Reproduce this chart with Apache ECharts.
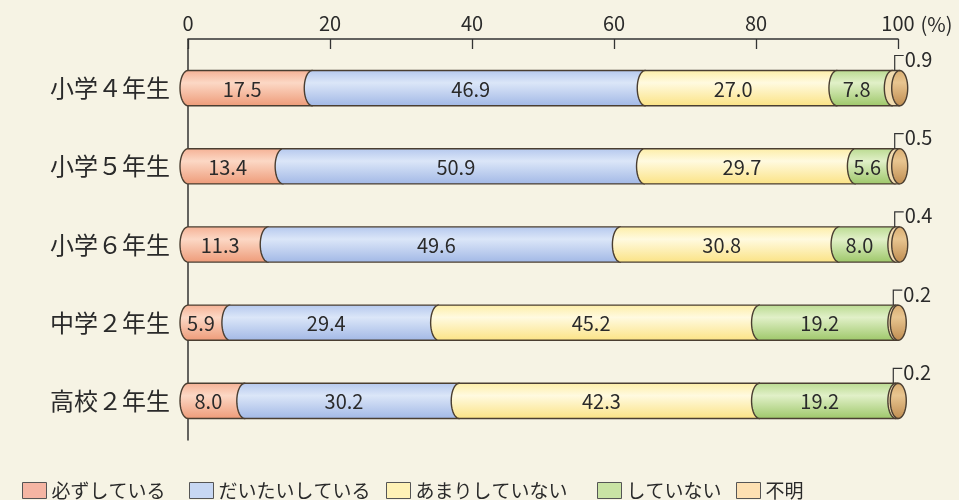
<!DOCTYPE html>
<html><head><meta charset="utf-8">
<script src="https://cdn.jsdelivr.net/npm/echarts@6/dist/echarts.min.js"></script>
<style>html,body{margin:0;padding:0;background:#f6f3e4}#c{width:959px;height:500px}</style>
</head><body><div id="c"></div>
<script>
const categories = ['小学４年生','小学５年生','小学６年生','中学２年生','高校２年生'];
const seriesNames = ['必ずしている','だいたいしている','あまりしていない','していない','不明'];
const kanarazu = [17.5, 13.4, 11.3, 5.9, 8.0];
const daitai = [46.9, 50.9, 49.6, 29.4, 30.2];
const amari = [27.0, 29.7, 30.8, 45.2, 42.3];
const shiteinai = [7.8, 5.6, 8.0, 19.2, 19.2];
const fumei = [0.9, 0.5, 0.4, 0.2, 0.2];
const xTicks = [0, 20, 40, 60, 80, 100];

const values = [kanarazu, daitai, amari, shiteinai, fumei];
const legendColors = ['#f5b5a3', '#c7d7f3', '#fff2b6', '#c9e3a4', '#fde0b2'];
const legendLefts = [17, 184, 381, 592, 731];
const grads = [
  ['#f5b296', '#fcd8c5', '#ee9c7a'],
  ['#b6c9ee', '#dbe6f8', '#a3b9e6'],
  ['#fdeea8', '#fffae0', '#fbe386'],
  ['#bbdb92', '#e1f0c8', '#9fc86b'],
  ['#d9ad70', '#e8c590', '#bf8c50']
];
const STROKE = '#4a3e31';
const FONT = 'Noto Sans CJK JP';

function grad(k) {
  const g = grads[k];
  return new echarts.graphic.LinearGradient(0, 0, 0, 1, [
    {offset: 0, color: g[0]}, {offset: 0.35, color: g[1]}, {offset: 1, color: g[2]}
  ]);
}

// stacked starts built from the arrays
const starts = values.map(() => []);
for (let i = 0; i < categories.length; i++) {
  let acc = 0;
  for (let k = 0; k < values.length; k++) { starts[k][i] = acc; acc += values[k][i]; }
}

function makeRender(k) {
  return function (params, api) {
    const s = api.coord([api.value(0), api.value(2)]);
    const e = api.coord([api.value(1), api.value(2)]);
    const band = api.size([0, 1])[1];
    const hh = band * 0.225;
    const cy = s[1], top = cy - hh, bot = cy + hh;
    const x0 = s[0];
    const B = 8;
    const arc = [];
    for (let j = 0; j <= 20; j++) {
      const t = -Math.PI / 2 + Math.PI * j / 20;
      arc.push([x0 - B * Math.cos(t), cy + hh * Math.sin(t)]);
    }
    const children = [];
    if (k < 4) {
      const x1 = e[0];
      children.push({type: 'polygon', shape: {points: [[x1, top]].concat(arc).concat([[x1, bot]])},
        style: {fill: grad(k), stroke: null}});
      children.push({type: 'polyline', shape: {points: [[x1 + 0.5, top]].concat(arc).concat([[x1 + 0.5, bot]])},
        style: {fill: null, stroke: STROKE, lineWidth: 1.4}});
      children.push({type: 'text', style: {
        x: (x0 + x1) / 2 - B, y: cy + 1, text: api.value(3).toFixed(1), align: 'center', verticalAlign: 'middle',
        fill: '#2a2a2a', font: '20px "' + FONT + '"'}, z2: 10});
    } else {
      const cx = e[0] + 1;
      const rx = 8;
      children.push({type: 'polygon', shape: {points: [[cx, top]].concat(arc).concat([[cx, bot]])},
        style: {fill: '#f1dcb0', stroke: null}});
      children.push({type: 'polyline', shape: {points: [[cx, top]].concat(arc).concat([[cx, bot]])},
        style: {fill: null, stroke: STROKE, lineWidth: 1.4}});
      const ell = [];
      for (let j = 0; j < 40; j++) {
        const t = 2 * Math.PI * j / 40;
        ell.push([cx + rx * Math.cos(t), cy + hh * Math.sin(t)]);
      }
      children.push({type: 'polygon', shape: {points: ell},
        style: {fill: grad(4), stroke: STROKE, lineWidth: 1.4}});
      children.push({type: 'polyline', shape: {points: [[cx - 5, top], [cx - 5, top - 15], [cx + 4, top - 15]]},
        style: {fill: null, stroke: '#333', lineWidth: 1.2}});
      children.push({type: 'text', style: {
        x: cx + 5, y: top - 11, text: api.value(3).toFixed(1), align: 'left', verticalAlign: 'middle',
        fill: '#2a2a2a', font: '20px "' + FONT + '"'}});
    }
    return {type: 'group', children: children};
  };
}

const series = values.map((arr, k) => ({
  name: seriesNames[k],
  type: 'custom',
  z: 2 + k,
  itemStyle: {color: legendColors[k]},
  encode: {x: [0, 1], y: 2},
  renderItem: makeRender(k),
  data: arr.map((v, i) => [starts[k][i], starts[k][i] + v, i, v])
}));

const legends = seriesNames.map((n, k) => ({
  left: legendLefts[k], top: 476, itemWidth: 24, itemHeight: 16, itemGap: 0,
  icon: 'rect',
  itemStyle: {borderColor: '#555', borderWidth: 1},
  textStyle: {color: '#2a2a2a', fontSize: 19, padding: [0, 0, 0, 0]},
  data: [n]
}));

const chart = echarts.init(document.getElementById('c'), null, {renderer: 'canvas'});
chart.setOption({
  backgroundColor: '#f6f3e4',
  animation: false,
  textStyle: {fontFamily: FONT},
  grid: {left: 188, right: 61, top: 49, bottom: 60, containLabel: false},
  xAxis: {
    type: 'value', position: 'top', offset: 10,
    min: xTicks[0], max: xTicks[xTicks.length - 1], interval: 20,
    name: '(%)', nameLocation: 'end', nameGap: 16,
    nameTextStyle: {color: '#2a2a2a', fontSize: 20, align: 'left', verticalAlign: 'bottom', padding: [0, 0, 5, 0]},
    axisLine: {show: true, lineStyle: {color: '#333', width: 1.5}},
    axisTick: {show: true, inside: true, length: 10, lineStyle: {color: '#333', width: 1.3}},
    axisLabel: {color: '#2a2a2a', fontSize: 20, margin: 6},
    splitLine: {show: false}
  },
  yAxis: {
    type: 'category', inverse: true, data: categories,
    axisLine: {show: true, lineStyle: {color: '#333', width: 1.5}},
    axisTick: {show: false},
    axisLabel: {color: '#2a2a2a', fontSize: 24, margin: 18}
  },
  graphic: [{type: 'line', shape: {x1: 188, y1: 39, x2: 188, y2: 49}, style: {stroke: '#333', lineWidth: 1.5}}],
  legend: legends,
  series: series
});
</script>
</body></html>
